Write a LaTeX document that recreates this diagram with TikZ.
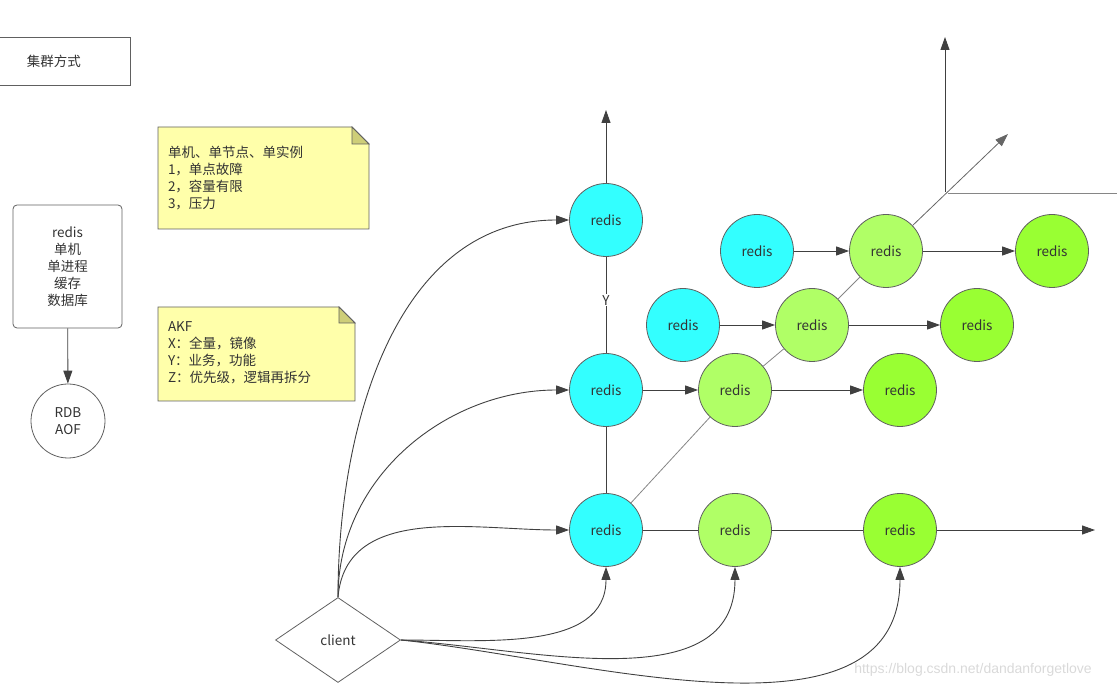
\documentclass[tikz,border=0pt]{standalone}
\usepackage{fontspec}
\setmainfont{Noto Sans CJK SC}
\newfontfamily\urlfont{Liberation Sans}
\usetikzlibrary{arrows.meta,shapes.geometric}
\definecolor{nodecyan}{RGB}{51,255,255}
\definecolor{lightlime}{RGB}{176,255,102}
\definecolor{lime}{RGB}{153,255,51}
\definecolor{noteyellow}{RGB}{255,255,170}
\definecolor{notefold}{RGB}{206,206,120}
\definecolor{edgegray}{RGB}{96,96,96}
\definecolor{linegray}{RGB}{64,64,64}
\definecolor{textgray}{RGB}{51,51,51}

\begin{document}
\begin{tikzpicture}[x=1pt, y=1pt, font=\fontsize{13.5}{17}\selectfont, text=textgray,
    redis/.style={draw=edgegray, circle, line width=0.8pt, minimum size=73pt, inner sep=0pt},
    plainbox/.style={draw=edgegray, line width=0.8pt, align=center, inner sep=0pt},
    notestyle/.style={draw=edgegray, fill=noteyellow, line width=0.8pt},
    foldstyle/.style={draw=edgegray, fill=notefold, line width=0.8pt},
    notetext/.style={align=left, inner sep=0pt},
    link/.style={draw=linegray, line width=0.9pt},
    flow/.style={link, -{Triangle[length=13pt, width=9pt]}},
    zline/.style={draw=gray!95, line width=0.8pt}]
    \path[use as bounding box, clip] (0,0) rectangle (1117,686);

    % left column
    \node[plainbox, minimum width=152pt, minimum height=48pt] (mode) at (54,625) {集群方式};
    \node[plainbox, rounded corners=4pt, minimum width=109pt, minimum height=123pt] (single) at (67.5,419.5) {redis\\单机\\单进程\\缓存\\数据库};
    \node[plainbox, circle, minimum size=74pt] (persist) at (68,265) {RDB\\AOF};
    \draw[flow] (single) -- (persist);

    % notes
    \filldraw[notestyle] (158,559) -- (352,559) -- (369,542) -- (369,457) -- (158,457) -- cycle;
    \filldraw[foldstyle] (352,559) -- (352,542) -- (369,542) -- cycle;
    \node[notetext, text width=191pt] (issues) at (263.5,508) {单机、单节点、单实例\\1，单点故障\\2，容量有限\\3，压力};
    \filldraw[notestyle] (158,379) -- (339,379) -- (355,363) -- (355,285) -- (158,285) -- cycle;
    \filldraw[foldstyle] (339,379) -- (339,363) -- (355,363) -- cycle;
    \node[notetext, text width=177pt] (akf) at (256.5,333) {AKF\\X：全量，镜像\\Y：业务，功能\\Z：优先级，逻辑再拆分};

    % redis grid
    \node[redis, fill=nodecyan] (ytop) at (606,466) {redis};
    \node[redis, fill=nodecyan] (r10) at (606,296) {redis};
    \node[redis, fill=nodecyan] (r00) at (606,156) {redis};
    \node[redis, fill=nodecyan] (r20) at (683,361) {redis};
    \node[redis, fill=nodecyan] (r30) at (757,435) {redis};
    \node[redis, fill=lightlime] (r01) at (735,156) {redis};
    \node[redis, fill=lightlime] (r11) at (735,296) {redis};
    \node[redis, fill=lightlime] (r21) at (812,361) {redis};
    \node[redis, fill=lightlime] (r31) at (886,435) {redis};
    \node[redis, fill=lime] (r02) at (900,156) {redis};
    \node[redis, fill=lime] (r12) at (900,296) {redis};
    \node[redis, fill=lime] (r22) at (977,361) {redis};
    \node[redis, fill=lime] (r32) at (1052,435) {redis};

    \coordinate (yend) at (606,576);
    \coordinate (xend) at (1095,156);
    \coordinate (zend) at (1008,552);
    \coordinate (origin) at (945,494);
    \coordinate (axisup) at (945,649);
    \coordinate (axisfoot) at (948,493);
    \coordinate (axisright) at (1117,493);

    \draw[flow] (ytop) -- (yend);
    \draw[link] (ytop) -- node[pos=0.45, fill=white, inner sep=1pt] (ylabel) {Y} (r10);
    \draw[link] (r10) -- (r00);
    \draw[flow] (r10) -- (r11);
    \draw[flow] (r11) -- (r12);
    \draw[flow] (r20) -- (r21);
    \draw[flow] (r21) -- (r22);
    \draw[flow] (r30) -- (r31);
    \draw[flow] (r31) -- (r32);
    \draw[link] (r00) -- (r01) -- (r02);
    \draw[flow] (r02) -- (xend);
    \draw[zline] (r00) -- (r11) -- (r21) -- (r31);
    \draw[zline, -{Triangle[length=13pt, width=9pt]}, draw=linegray!80] (r31) -- (zend);

    % axes
    \draw[flow] (origin) -- (axisup);
    \draw[zline] (axisfoot) -- (axisright);

    % client
    \node[draw=edgegray, line width=0.8pt, diamond, aspect=1.47, minimum width=125pt, minimum height=85pt, inner sep=0pt] (client) at (338,46) {client};
    \draw[flow] (client.north) to[out=90, in=180] (ytop.west);
    \draw[flow] (client.north) to[out=90, in=180] (r10.west);
    \draw[flow] (client.north) to[out=85, in=180] (r00.west);
    \draw[flow] (client.east) to[out=0, in=270] (r00.south);
    \draw[flow] (client.east) to[out=-4, in=270] (r01.south);
    \draw[flow] (client.east) to[out=-6, in=270, looseness=0.95] (r02.south);

    \node[font=\urlfont\fontsize{14}{16}\selectfont, text=gray!30] (mark) at (973,16) {https://blog.csdn.net/dandanforgetlove};
\end{tikzpicture}
\end{document}
